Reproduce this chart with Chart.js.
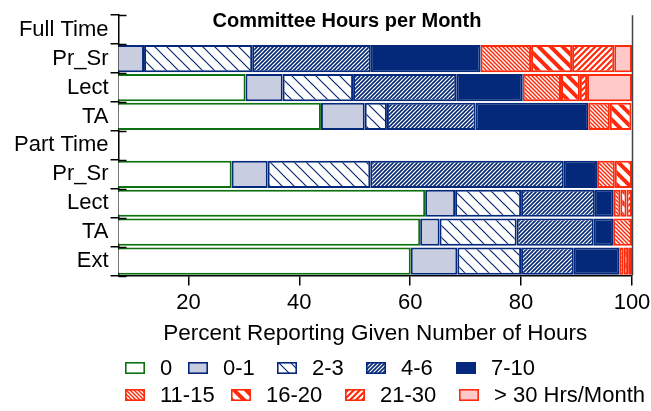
<!DOCTYPE html>
<html>
<head>
<meta charset="utf-8">
<script src="https://cdn.jsdelivr.net/npm/chart.js@4.4.1/dist/chart.umd.min.js"></script>
<style>
  html, body { margin: 0; padding: 0; background: #fff; }
</style>
</head>
<body>
<canvas id="hoursChart" width="651" height="411"></canvas>
<script>
const rowLabels = ['Full Time', 'Pr_Sr', 'Lect', 'TA', 'Part Time', 'Pr_Sr', 'Lect', 'TA', 'Ext'];
const hourGroups = ['0', '0-1', '2-3', '4-6', '7-10', '11-15', '16-20', '21-30', '> 30 Hrs/Month'];
// percent per group, in row order (header rows stay empty)
const hrs0     = [null, 0,    30.3, 43.9, null, 27.8, 62.7, 61.8, 60.1];
const hrs0_1   = [null, 12.0, 6.7,  7.9,  null, 6.5,  5.4,  3.5,  8.4];
const hrs2_3   = [null, 19.5, 12.7, 4.0,  null, 18.5, 11.9, 13.9, 11.5];
const hrs4_6   = [null, 21.4, 18.6, 16.0, null, 34.9, 13.3, 13.9, 9.5];
const hrs7_10  = [null, 19.8, 12.0, 20.3, null, 6.0,  3.4,  3.5,  8.2];
const hrs11_15 = [null, 9.1,  6.9,  3.9,  null, 3.2,  1.2,  3.4,  0.8];
const hrs16_20 = [null, 7.4,  3.4,  3.9,  null, 3.1,  1.1,  0,    0.8];
const hrs21_30 = [null, 7.6,  1.3,  0,    null, 0,    1.0,  0,    0.7];
const hrs30up  = [null, 3.2,  8.1,  0,    null, 0,    0,    0,    0];
const xTicks = [20, 40, 60, 80, 100];

const series = [hrs0, hrs0_1, hrs2_3, hrs4_6, hrs7_10, hrs11_15, hrs16_20, hrs21_30, hrs30up];

const navy = '#05297a';
const red = '#ff2a0c';
const green = '#0c720f';

// diagonal hatch tile, '/' or '\'
function hatch(color, size, width, dir) {
    const c = document.createElement('canvas');
    c.width = size;
    c.height = size;
    const g = c.getContext('2d');
    g.fillStyle = '#ffffff';
    g.fillRect(0, 0, size, size);
    g.strokeStyle = color;
    g.lineWidth = width;
    if (dir === '\\') {
        g.translate(size, 0);
        g.scale(-1, 1);
    }
    g.beginPath();
    for (let k = 0; k <= 2; k++) {
        g.moveTo(-1, k * size + 1);
        g.lineTo(k * size + 1, -1);
    }
    g.stroke();
    return g.createPattern(c, 'repeat');
}

const styles = [
    { bg: '#ffffff', border: green },
    { bg: '#c9cde0', border: navy },
    { bg: hatch(navy, 12, 1.2, '\\'), border: navy },
    { bg: hatch(navy, 4, 1.6, '/'), border: navy },
    { bg: navy, border: navy },
    { bg: hatch(red, 4, 1.5, '\\'), border: red },
    { bg: hatch(red, 12, 4, '\\'), border: red },
    { bg: hatch(red, 6, 2.2, '/'), border: red },
    { bg: '#ffc9c9', border: red },
];

// where each legend box sits (two rows under the axis title)
const legendSlots = [
    [125, 368], [188, 368], [277, 368], [366, 368], [456, 368],
    [125, 395], [231, 395], [345, 395], [459, 395],
];

const FONT = '"Liberation Sans", Arial, Helvetica, sans-serif';
Chart.defaults.font.family = FONT;
Chart.defaults.color = '#000';

// title, frame bits and the two-row legend
const extrasPlugin = {
    id: 'extras',
    afterDraw(chart) {
        const ctx = chart.ctx;
        const area = chart.chartArea;
        const yScale = chart.scales.y;
        ctx.save();

        // inner half of the y ticks
        const step = (yScale.bottom - yScale.top) / rowLabels.length;
        ctx.strokeStyle = '#000';
        ctx.lineWidth = 1.5;
        ctx.beginPath();
        for (let i = 0; i <= rowLabels.length; i++) {
            const y = Math.round(yScale.top + i * step) + 0.5;
            ctx.moveTo(area.left, y);
            ctx.lineTo(area.left + 8, y);
        }
        ctx.stroke();

        // right edge
        ctx.strokeStyle = '#444';
        ctx.beginPath();
        ctx.moveTo(area.right + 0.5, area.top);
        ctx.lineTo(area.right + 0.5, area.bottom);
        ctx.stroke();

        // title
        ctx.fillStyle = '#000';
        ctx.font = 'bold 20px ' + FONT;
        ctx.textAlign = 'center';
        ctx.textBaseline = 'alphabetic';
        ctx.fillText('Committee Hours per Month', 347, 27);

        // legend
        ctx.font = '22px ' + FONT;
        ctx.textAlign = 'left';
        ctx.textBaseline = 'middle';
        chart.data.datasets.forEach((ds, i) => {
            const [x, y] = legendSlots[i];
            ctx.fillStyle = ds.backgroundColor;
            ctx.fillRect(x, y - 6, 20, 12);
            ctx.strokeStyle = ds.borderColor;
            ctx.lineWidth = 1.6;
            ctx.strokeRect(x + 0.8, y - 5.2, 18.4, 10.4);
            ctx.fillStyle = '#000';
            ctx.fillText(ds.label, x + 35, y + 1);
        });
        ctx.restore();
    }
};

const chart = new Chart(document.getElementById('hoursChart'), {
    type: 'bar',
    data: {
        labels: rowLabels,
        datasets: series.map((d, i) => ({
            label: hourGroups[i],
            data: d,
            backgroundColor: styles[i].bg,
            borderColor: styles[i].border,
            borderWidth: 2,
            borderSkipped: false,
            barPercentage: 0.94,
            categoryPercentage: 1,
        })),
    },
    options: {
        indexAxis: 'y',
        responsive: false,
        animation: false,
        layout: { padding: { left: 12, top: 15, right: 19, bottom: 64 } },
        plugins: {
            legend: { display: false },
            title: { display: false },
            tooltip: { enabled: false },
        },
        scales: {
            x: {
                stacked: true,
                min: 7.4,
                max: 100,
                afterBuildTicks: (scale) => {
                    scale.ticks = xTicks.map(v => ({ value: v }));
                },
                afterFit: (scale) => {
                    // let the "100" label hang into the right margin
                    scale.paddingLeft = 0;
                    scale.paddingRight = 0;
                },
                grid: { drawOnChartArea: false, tickLength: 10, color: '#000', lineWidth: 1.5 },
                border: { color: '#000', width: 1.5 },
                ticks: { color: '#000', font: { size: 22 }, padding: 4, maxRotation: 0 },
                title: {
                    display: true,
                    text: 'Percent Reporting Given Number of Hours',
                    color: '#000',
                    font: { size: 22.5 },
                    padding: { top: 0, bottom: 0 },
                },
            },
            y: {
                stacked: true,
                grid: { drawOnChartArea: false, tickLength: 8, color: '#000', lineWidth: 1.5, offset: true },
                border: { color: '#000', width: 1.5 },
                ticks: { color: '#000', font: { size: 22 }, padding: 2, autoSkip: false },
            },
        },
    },
    plugins: [extrasPlugin],
});
</script>
</body>
</html>
